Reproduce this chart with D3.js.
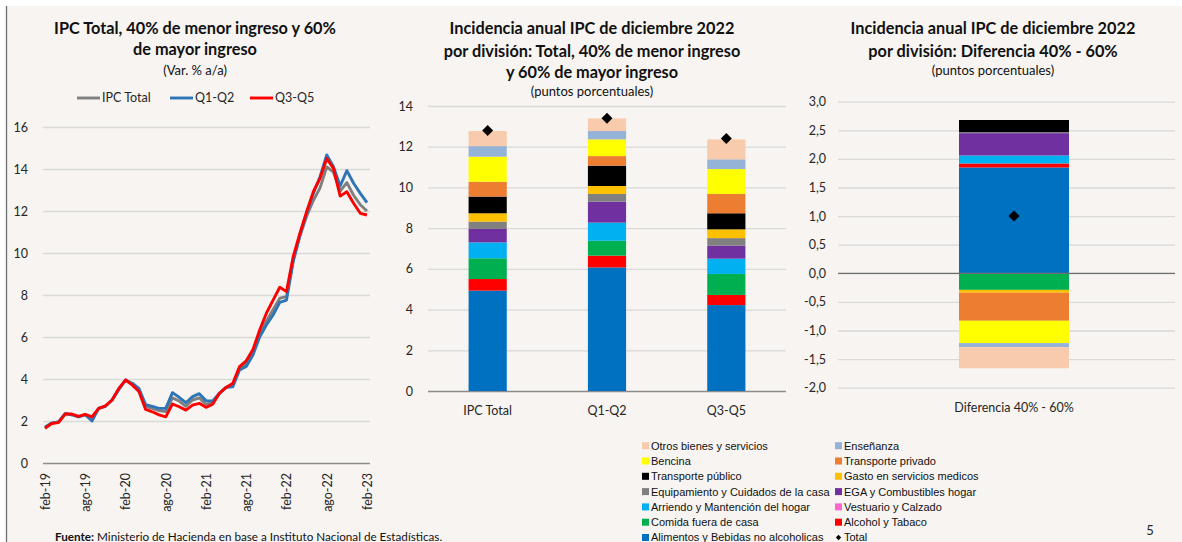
<!DOCTYPE html>
<html><head><meta charset="utf-8">
<script src="https://cdn.jsdelivr.net/npm/d3@7"></script>
<style>
html,body{margin:0;padding:0;background:#fff;}
svg{display:block;}
text{font-family:Lato,"Open Sans",sans-serif;fill:#262626;}
</style></head><body>
<svg id="chart" width="1182" height="542"></svg>
<script>
// ---------- DATA ----------
// Left chart: monthly series feb-19 .. feb-23 (Var. % a/a)
const lineSeriesNames = ["IPC Total", "Q1-Q2", "Q3-Q5"];
const ipcTotal = [1.7,1.9,1.95,2.35,2.3,2.2,2.3,2.1,2.6,2.7,3.0,3.5,3.95,3.75,3.5,2.7,2.6,2.5,2.45,3.1,2.95,2.7,3.0,3.1,2.8,2.87,3.3,3.6,3.72,4.5,4.72,5.3,6.15,6.75,7.3,7.85,7.92,9.65,10.8,11.75,12.5,13.1,14.1,13.85,12.95,13.35,12.75,12.3,12.0];
const q1q2 = [1.7,1.9,1.95,2.35,2.3,2.2,2.3,2.0,2.6,2.7,3.0,3.5,3.95,3.8,3.55,2.78,2.7,2.6,2.6,3.35,3.13,2.87,3.16,3.3,2.97,2.95,3.32,3.6,3.63,4.43,4.6,5.14,6.0,6.57,7.05,7.65,7.76,9.6,10.85,11.9,12.84,13.63,14.67,14.11,13.19,13.92,13.32,12.84,12.4];
const q3q5 = [1.65,1.88,1.92,2.33,2.33,2.22,2.32,2.2,2.6,2.72,3.0,3.55,3.95,3.72,3.4,2.55,2.44,2.29,2.2,2.81,2.68,2.52,2.76,2.84,2.65,2.8,3.32,3.6,3.8,4.59,4.87,5.41,6.33,7.13,7.76,8.37,8.16,9.83,10.94,11.97,12.92,13.56,14.5,14.03,12.71,12.92,12.37,11.89,11.81];
const xTickLabels = ["feb-19","ago-19","feb-20","ago-20","feb-21","ago-21","feb-22","ago-22","feb-23"];
const yTicksLeft = [0,2,4,6,8,10,12,14,16];

// Middle chart
const barCategories = ["IPC Total", "Q1-Q2", "Q3-Q5"];
const divisions = ["Alimentos y Bebidas no alcoholicas","Alcohol y Tabaco","Comida fuera de casa","Vestuario y Calzado","Arriendo y Mantención del hogar","EGA y Combustibles hogar","Equipamiento y Cuidados de la casa","Gasto en servicios medicos","Transporte público","Transporte privado","Bencina","Enseñanza","Otros bienes y servicios"];
const alimentos   = [4.93, 6.07, 4.22];
const alcohol     = [0.57, 0.58, 0.50];
const comida      = [1.02, 0.73, 1.03];
const vestuario   = [0, 0, 0];
const arriendo    = [0.78, 0.89, 0.75];
const ega         = [0.66, 1.03, 0.64];
const equipamiento= [0.36, 0.38, 0.37];
const gastoMedico = [0.41, 0.39, 0.43];
const transPublico= [0.82, 1.00, 0.79];
const transPrivado= [0.73, 0.47, 0.95];
const bencina     = [1.23, 0.82, 1.22];
const ensenanza   = [0.52, 0.41, 0.48];
const otros       = [0.74, 0.62, 0.98];
const totals      = [12.8, 13.4, 12.4];
const yTicksMid = [0,2,4,6,8,10,12,14];

// Right chart: difference 40% - 60%
const diffCategory = ["Diferencia 40% - 60%"];
const diffValues = [1.85, 0.07, -0.29, 0, 0.14, 0.39, 0.02, -0.05, 0.21, -0.49, -0.39, -0.07, -0.37];
const diffTotal = [1.0];
const yTicksRight = [-2,-1.5,-1,-0.5,0,0.5,1,1.5,2,2.5,3];

const divisionColors = ["#0070C0","#FF0000","#00B050","#FF66CC","#00B0F0","#7030A0","#808080","#FFC000","#000000","#ED7D31","#FFFF00","#95B3D7","#F8CBAD"];
const lineColors = ["#7f7f7f","#2E75B6","#FF0000"];
const legendOrder = ["Otros bienes y servicios","Enseñanza","Bencina","Transporte privado","Transporte público","Gasto en servicios medicos","Equipamiento y Cuidados de la casa","EGA y Combustibles hogar","Arriendo y Mantención del hogar","Vestuario y Calzado","Comida fuera de casa","Alcohol y Tabaco","Alimentos y Bebidas no alcoholicas","Total"];

// ---------- DRAW ----------
const svg = d3.select("#chart");
const BG = "#f7f4f1";
svg.append("rect").attr("x",7).attr("y",6).attr("width",1175).attr("height",536).attr("fill",BG);
svg.append("line").attr("x1",6.5).attr("x2",6.5).attr("y1",6).attr("y2",542).attr("stroke","#6f6f6f").attr("stroke-width",1.3);

function title(lines, cx, ys, sizes, weights){
  lines.forEach((t,i)=>{
    svg.append("text").attr("x",cx).attr("y",ys[i]).attr("text-anchor","middle")
      .style("font-size",sizes[i]+"px").style("font-weight",weights[i]).style("fill","#111").text(t);
  });
}
function styleGrid(g, zeroDark){
  g.select(".domain").remove();
  g.selectAll(".tick line").attr("stroke","#d9d9d9").attr("stroke-width",1.3);
  if(zeroDark) g.selectAll(".tick").filter(d=>d===0).select("line").attr("stroke","#8c8c8c").attr("stroke-width",1.5);
  g.selectAll(".tick text").style("font-size","12.5px").style("fill","#262626");
}
const TS = 16.3, SS = 13;

// ---- Left chart ----
title(["IPC Total, 40% de menor ingreso y 60%","de mayor ingreso","(Var. % a/a)"],195,[34,55,75],[TS,TS,SS],["bold","bold","normal"]);
const months = d3.range(ipcTotal.length);
const xL = d3.scalePoint().domain(months).range([45,367]);
const yL = d3.scaleLinear().domain([0,16]).range([463,127]);
const gyL = svg.append("g").attr("transform","translate(43,0)")
  .call(d3.axisLeft(yL).tickValues(yTicksLeft).tickSize(-327).tickPadding(15).tickFormat(d3.format("d")));
styleGrid(gyL,true);
const gxL = svg.append("g").attr("transform","translate(0,463)")
  .call(d3.axisBottom(xL).tickValues(months.filter(m=>m%6===0)).tickSize(0).tickFormat((d,i)=>xTickLabels[i]));
gxL.select(".domain").remove();
gxL.selectAll("text").attr("transform","rotate(-90)").attr("x",-10).attr("y",0).attr("dy","0.35em")
  .attr("text-anchor","end").style("font-size","12.5px").style("fill","#262626");
const lineGen = d3.line().x((d,i)=>xL(i)).y(d=>yL(d));
[ipcTotal,q1q2,q3q5].forEach((s,k)=>{
  svg.append("path").datum(s).attr("d",lineGen).attr("fill","none")
    .attr("stroke",lineColors[k]).attr("stroke-width",2.9).attr("stroke-linejoin","round");
});
// legend
const legL = [[77,102],[170,195],[250,275]];
lineSeriesNames.forEach((n,k)=>{
  svg.append("line").attr("x1",legL[k][0]).attr("x2",legL[k][0]+23).attr("y1",98).attr("y2",98)
    .attr("stroke",lineColors[k]).attr("stroke-width",2.9);
  svg.append("text").attr("x",legL[k][1]).attr("y",98).attr("dy","0.35em").style("font-size","12.5px").text(n);
});

// ---- Middle chart ----
title(["Incidencia anual IPC de diciembre 2022","por división: Total, 40% de menor ingreso","y 60% de mayor ingreso","(puntos porcentuales)"],592,[34,57,78,96],[TS,TS,TS,SS],["bold","bold","bold","normal"]);
const seriesArrays = [alimentos,alcohol,comida,vestuario,arriendo,ega,equipamiento,gastoMedico,transPublico,transPrivado,bencina,ensenanza,otros];
const rows = barCategories.map((c,i)=>{
  const r = {cat:c};
  divisions.forEach((d,k)=>r[d]=seriesArrays[k][i]);
  return r;
});
const xM = d3.scaleBand().domain(barCategories).range([428,786]);
const yM = d3.scaleLinear().domain([0,14]).range([391,106]);
const gyM = svg.append("g").attr("transform","translate(428,0)")
  .call(d3.axisLeft(yM).tickValues(yTicksMid).tickSize(-358).tickPadding(15).tickFormat(d3.format("d")));
styleGrid(gyM,true);
const stackM = d3.stack().keys(divisions).offset(d3.stackOffsetDiverging)(rows);
const bwM = xM.bandwidth()*0.32;
stackM.forEach((layer,k)=>{
  svg.append("g").selectAll("rect").data(layer).join("rect")
    .attr("x",d=>xM(d.data.cat)+(xM.bandwidth()-bwM)/2).attr("width",bwM)
    .attr("y",d=>yM(Math.max(d[0],d[1]))).attr("height",d=>Math.abs(yM(d[0])-yM(d[1])))
    .attr("fill",divisionColors[k]);
});
const diamond = d3.symbol().type(d3.symbolSquare).size(60);
svg.append("g").selectAll("path").data(totals).join("path")
  .attr("d",diamond).attr("transform",(d,i)=>`translate(${xM(barCategories[i])+xM.bandwidth()/2},${yM(d)}) rotate(45)`)
  .attr("fill","#000");
svg.append("g").selectAll("text").data(barCategories).join("text")
  .attr("x",d=>xM(d)+xM.bandwidth()/2).attr("y",415).attr("text-anchor","middle").style("font-size","12.5px").text(d=>d);

// ---- Right chart ----
title(["Incidencia anual IPC de diciembre 2022","por división: Diferencia 40% - 60%","(puntos porcentuales)"],993,[34,57,75],[TS,TS,SS],["bold","bold","normal"]);
const xR = d3.scaleBand().domain(diffCategory).range([838,1190]);
const yR = d3.scaleLinear().domain([-2,3]).range([387.7,101.7]);
const fmtR = v=>d3.format(".1f")(v).replace(".",",").replace("−","-");
const gyR = svg.append("g").attr("transform","translate(838,0)")
  .call(d3.axisLeft(yR).tickValues(yTicksRight).tickSize(-337).tickPadding(12).tickFormat(fmtR));
styleGrid(gyR,false);
const rowR = {cat:diffCategory[0]};
divisions.forEach((d,k)=>rowR[d]=diffValues[k]);
const stackR = d3.stack().keys(divisions).offset(d3.stackOffsetDiverging)([rowR]);
const bwR = xR.bandwidth()*0.3125;
stackR.forEach((layer,k)=>{
  svg.append("g").selectAll("rect").data(layer).join("rect")
    .attr("x",d=>xR(d.data.cat)+(xR.bandwidth()-bwR)/2).attr("width",bwR)
    .attr("y",d=>yR(Math.max(d[0],d[1]))).attr("height",d=>Math.abs(yR(d[0])-yR(d[1])))
    .attr("fill",divisionColors[k]);
});
svg.append("line").attr("x1",838).attr("x2",1175).attr("y1",yR(0)).attr("y2",yR(0)).attr("stroke","#6f6f6f").attr("stroke-width",1.3);
svg.append("g").selectAll("path").data(diffTotal).join("path")
  .attr("d",diamond).attr("transform",(d,i)=>`translate(${xR(diffCategory[i])+xR.bandwidth()/2},${yR(d)}) rotate(45)`)
  .attr("fill","#000");
svg.append("text").attr("x",xR(diffCategory[0])+xR.bandwidth()/2).attr("y",412).attr("text-anchor","middle")
  .style("font-size","12.5px").text(diffCategory[0]);

// ---- Bottom legend ----
const leg = svg.append("g");
legendOrder.forEach((n,i)=>{
  const col = i%2, row = Math.floor(i/2);
  const x = col===0 ? 642 : 835, y = 445.7 + row*15.3;
  if(n==="Total"){
    leg.append("path").attr("d",d3.symbol().type(d3.symbolSquare).size(14)).attr("transform",`translate(${x+3.5},${y}) rotate(45)`).attr("fill","#000");
  } else {
    leg.append("rect").attr("x",x).attr("y",y-3.5).attr("width",7).attr("height",7).attr("fill",divisionColors[divisions.indexOf(n)]);
  }
  leg.append("text").attr("x",x+9).attr("y",y).attr("dy","0.36em").style("font-family","'Liberation Sans',Arial,sans-serif")
    .style("font-size","11px").style("fill","#111").text(n);
});

// ---- Footer ----
const ft = svg.append("text").attr("x",55).attr("y",541).style("font-size","11.7px").style("fill","#111");
ft.append("tspan").style("font-weight","bold").text("Fuente:");
ft.append("tspan").text(" Ministerio de Hacienda en base a Instituto Nacional de Estadísticas.");
svg.append("text").attr("x",1150).attr("y",535).attr("text-anchor","middle").style("font-size","13px").text("5");
</script>
</body></html>
